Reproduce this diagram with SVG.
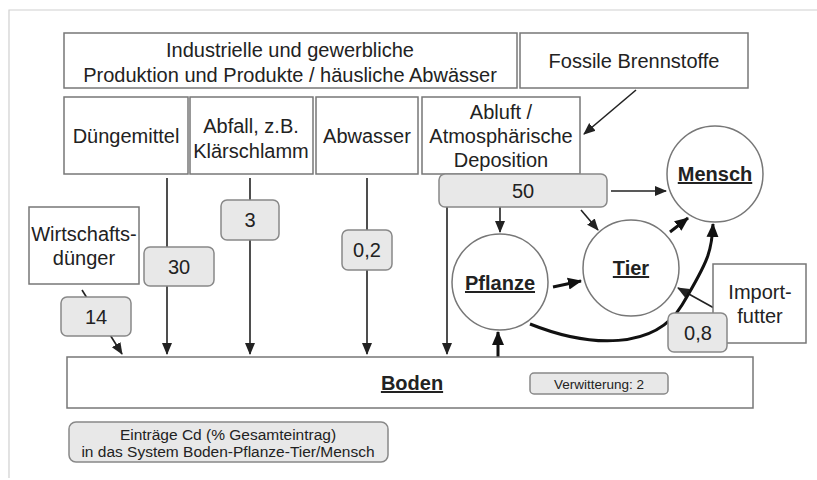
<svg xmlns="http://www.w3.org/2000/svg" width="817" height="480" viewBox="0 0 817 480">
<defs>
<style>
text{font-family:"Liberation Sans",Arial,sans-serif;fill:#222;text-anchor:middle}
.lbl{font-size:20px}
.b{font-weight:bold;text-decoration:underline}
.box{fill:#fff;stroke:#777;stroke-width:1.5}
.val{fill:#e8e8e8;stroke:#888;stroke-width:1.5}
.ln{fill:none;stroke:#222;stroke-width:1.6}
.tk{fill:none;stroke:#111;stroke-width:3}
</style>
<marker id="ah" markerUnits="userSpaceOnUse" markerWidth="12" markerHeight="12" viewBox="0 0 12 12" refX="11" refY="6" orient="auto"><path d="M0,1 L12,6 L0,11 Z" fill="#222"/></marker>
<marker id="ahk" markerUnits="userSpaceOnUse" markerWidth="14" markerHeight="14" viewBox="0 0 14 14" refX="13" refY="7" orient="auto"><path d="M0,1 L14,7 L0,13 Z" fill="#111"/></marker>
</defs>
<rect width="817" height="480" fill="#fff"/>
<path d="M9 478 V10 H817" fill="none" stroke="#d0d0d0" stroke-width="1.2"/>
<g id="connectors">
<line class="ln" x1="636" y1="90" x2="584" y2="134" marker-end="url(#ah)"/>
<line class="ln" x1="167" y1="178" x2="167" y2="354" marker-end="url(#ah)"/>
<line class="ln" x1="250" y1="178" x2="250" y2="354" marker-end="url(#ah)"/>
<line class="ln" x1="367" y1="178" x2="367" y2="354" marker-end="url(#ah)"/>
<line class="ln" x1="447" y1="200" x2="447" y2="354" marker-end="url(#ah)"/>
<line class="ln" x1="82" y1="290" x2="122" y2="354" marker-end="url(#ah)"/>
<line class="ln" x1="611" y1="191" x2="666" y2="191" marker-end="url(#ah)"/>
<line class="ln" x1="500" y1="207" x2="500" y2="232" marker-end="url(#ah)"/>
<line class="ln" x1="581" y1="210" x2="598" y2="230" marker-end="url(#ah)"/>
<line class="tk" x1="670" y1="232" x2="688" y2="218" marker-end="url(#ahk)"/>
<line class="tk" x1="553" y1="287" x2="581" y2="281" marker-end="url(#ahk)"/>
<line class="tk" x1="498" y1="357" x2="498" y2="332" marker-end="url(#ahk)"/>
<line class="ln" x1="714" y1="308" x2="678" y2="288" marker-end="url(#ah)"/>
<path class="tk" d="M530 324 C 590 348, 655 350, 682 305 S 712 250, 713 224" marker-end="url(#ahk)"/>
</g>
<g id="industrie"><rect class="box" x="64" y="33" width="453" height="55"/><text class="lbl" x="290" y="57">Industrielle und gewerbliche</text><text class="lbl" x="290" y="82">Produktion und Produkte / häusliche Abwässer</text></g>
<g id="fossile"><rect class="box" x="520" y="33" width="228" height="55"/><text class="lbl" x="634" y="68">Fossile Brennstoffe</text></g>
<g id="duengemittel"><rect class="box" x="64" y="97" width="124" height="77"/><text class="lbl" x="126" y="143">Düngemittel</text></g>
<g id="abfall"><rect class="box" x="190" y="97" width="123" height="77"/><text class="lbl" x="251" y="133">Abfall, z.B.</text><text class="lbl" x="251" y="158">Klärschlamm</text></g>
<g id="abwasser"><rect class="box" x="316" y="97" width="102" height="77"/><text class="lbl" x="367" y="143">Abwasser</text></g>
<g id="abluft"><rect class="box" x="422" y="97" width="158" height="77"/><text class="lbl" x="501" y="119">Abluft /</text><text class="lbl" x="501" y="143">Atmosphärische</text><text class="lbl" x="501" y="167">Deposition</text></g>
<g id="wirtschaftsduenger"><rect class="box" x="29" y="207" width="110" height="77"/><text class="lbl" x="84" y="241">Wirtschafts-</text><text class="lbl" x="84" y="265">dünger</text></g>
<g id="v30"><rect class="val" x="144" y="247" width="70" height="39" rx="6"/><text class="lbl" x="179" y="274">30</text></g>
<g id="v3"><rect class="val" x="221" y="200" width="58" height="40" rx="6"/><text class="lbl" x="250" y="227">3</text></g>
<g id="v02"><rect class="val" x="342" y="230" width="50" height="40" rx="6"/><text class="lbl" x="367" y="257">0,2</text></g>
<g id="v14"><rect class="val" x="61" y="297" width="70" height="39" rx="6"/><text class="lbl" x="96" y="324">14</text></g>
<g id="v50"><rect class="val" x="439" y="174" width="168" height="33" rx="6"/><text class="lbl" x="523" y="198">50</text></g>
<g id="mensch"><circle cx="715" cy="174" r="48" fill="#fff" stroke="#777" stroke-width="1.5"/><text class="lbl b" x="715" y="181">Mensch</text></g>
<g id="pflanze"><circle cx="500" cy="282" r="48" fill="#fff" stroke="#777" stroke-width="1.5"/><text class="lbl b" x="500" y="290">Pflanze</text></g>
<g id="tier"><circle cx="631" cy="268" r="48" fill="#fff" stroke="#777" stroke-width="1.5"/><text class="lbl b" x="631" y="275">Tier</text></g>
<g id="importfutter"><rect class="box" x="713" y="264" width="93" height="79"/><text class="lbl" x="760" y="299">Import-</text><text class="lbl" x="760" y="323">futter</text></g>
<g id="v08"><rect class="val" x="668" y="313" width="59" height="39" rx="6"/><text class="lbl" x="698" y="340">0,8</text></g>
<g id="boden"><rect class="box" x="67" y="357" width="686" height="51"/><text class="lbl b" x="412" y="390">Boden</text><g id="verwitterung"><rect class="val" x="530" y="373" width="138" height="21" rx="4"/><text x="599" y="389" style="font-size:13.5px">Verwitterung: 2</text></g></g>
<g id="legende"><rect class="val" x="69" y="422" width="319" height="40" rx="7"/><text x="228" y="440" style="font-size:15.5px">Einträge Cd (% Gesamteintrag)</text><text x="228" y="457" style="font-size:15.5px">in das System Boden-Pflanze-Tier/Mensch</text></g>
</svg>
